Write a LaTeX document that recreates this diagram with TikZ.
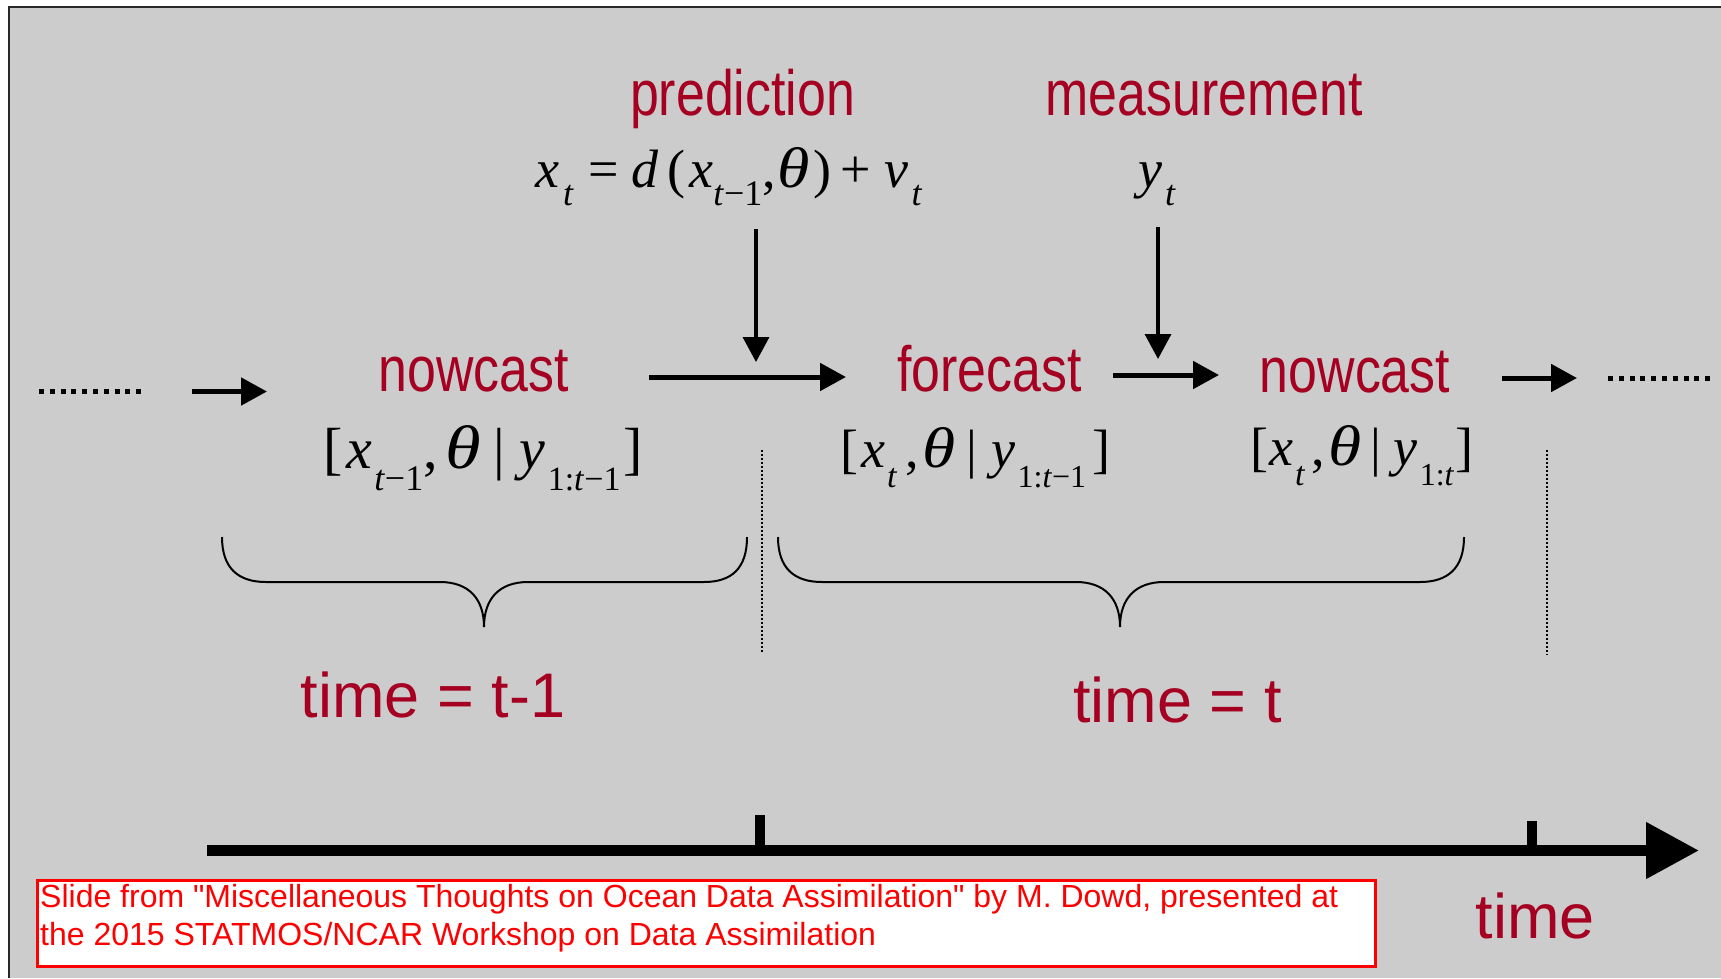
\documentclass[tikz,border=0pt]{standalone}
\usepackage{fontspec}
\usepackage{graphicx}
\setmainfont{Liberation Sans}[Ligatures=TeXOff]
\newfontfamily\tnr{Liberation Serif}
\usetikzlibrary{arrows.meta}
\definecolor{bgray}{RGB}{204,204,204}
\definecolor{lblred}{RGB}{165,0,33}
\definecolor{notered}{RGB}{255,0,0}
\definecolor{framec}{RGB}{40,40,40}
\newcommand\Sb[3]{\raisebox{-#1pt}{\fontsize{#2}{#2}\selectfont #3}}
\newcommand\It[1]{\textit{#1}}
\newcommand\Th[1]{\scalebox{#1}[1.06]{\textit{θ}}}
\newcommand\Nar[1]{\scalebox{0.81}[1]{#1}}
\tikzset{
 lbl/.style={text=lblred, inner sep=0pt, anchor=base, font=\fontsize{64}{64}\selectfont},
 tlbl/.style={text=lblred, inner sep=0pt, anchor=base, font=\fontsize{63}{63}\selectfont},
 mth/.style={inner sep=0pt, anchor=base west, font=\tnr},
 harrow/.style={line width=5pt, -{Triangle[length=26pt,width=27pt]}},
 varrow/.style={line width=3.5pt, -{Triangle[length=25pt,width=26pt]}},
 axisarrow/.style={line width=11pt, -{Triangle[length=53pt,width=54pt]}},
 dotrow/.style={line width=5pt, dash pattern=on 5pt off 5.8pt},
 sepline/.style={line width=1.4pt, dash pattern=on 1.6pt off 2.4pt},
 brace/.style={line width=2pt},
 tickm/.style={line width=10pt},
 notetext/.style={text=notered, inner sep=0pt, anchor=base west, font=\fontsize{32}{32}\selectfont},
}
\begin{document}
\begin{tikzpicture}[x=1pt,y=-1pt]
\useasboundingbox (0,0) rectangle (1721,978);
\fill[white] (0,0) rectangle (1721,978);
\fill[bgray] (9,7) rectangle (1721,978);
\draw[framec, line width=2pt] (9,978) -- (9,7) -- (1721,7);

% red labels
\node[lbl] (pred) at (742.5,115) {\Nar{prediction}};
\node[lbl] (meas) at (1204,115) {\Nar{measurement}};
\node[lbl] (nowL) at (474,391) {\Nar{nowcast}};
\node[lbl] (fore) at (989.5,391) {\Nar{forecast}};
\node[lbl] (nowR) at (1355,392) {\Nar{nowcast}};

% math
\node[mth] (eqpred) at (535,187) {\fontsize{54}{54}\selectfont\It{x}\hspace{4pt}\Sb{18}{36}{\It{t}}\hspace{15pt}=\hspace{12pt}\It{d}\hspace{9pt}(\hspace{4pt}\It{x}\Sb{18}{36}{\It{t}−1},\hspace{2pt}\Th{1.22}\hspace{3pt})\hspace{9pt}+\hspace{14pt}\It{ν}\hspace{3pt}\Sb{18}{36}{\It{t}}};
\node[mth] (eqmeas) at (1138,187) {\fontsize{54}{54}\selectfont\It{y}\hspace{3pt}\Sb{18}{36}{\It{t}}};
\node[mth] (distL) at (323,468) {\fontsize{58}{58}\selectfont[\hspace{4pt}\It{x}\hspace{2pt}\Sb{22}{36}{\It{t}−1},\hspace{8pt}\Th{1.25}\hspace{12pt}|\hspace{14pt}\It{y}\hspace{3pt}\Sb{22}{34}{1:\It{t}−1}\hspace{3pt}]};
\node[mth] (distF) at (840,467) {\fontsize{54}{54}\selectfont[\hspace{3pt}\It{x}\hspace{2pt}\Sb{20}{34}{\It{t}}\hspace{8pt},\hspace{4pt}\Th{1.25}\hspace{11pt}|\hspace{14pt}\It{y}\hspace{2pt}\Sb{20}{32}{1:\It{t}−1}\hspace{6pt}]};
\node[mth] (distR) at (1250,465) {\fontsize{54}{54}\selectfont[\hspace{1pt}\It{x}\hspace{2pt}\Sb{20}{34}{\It{t}}\hspace{6pt},\hspace{4pt}\Th{1.25}\hspace{9pt}|\hspace{12pt}\It{y}\hspace{2pt}\Sb{20}{32}{1:\It{t}}\hspace{1pt}]};

% time labels
\node[tlbl] (tprev) at (433,717) {time = t-1};
\node[tlbl] (tcur) at (1177.5,722) {time = t};
\node[tlbl] (taxis) at (1535,938) {time};

% arrow end points
\coordinate (dotsLa) at (39,391.5);
\coordinate (dotsLb) at (142,391.5);
\coordinate (inLa) at (192,391.5);
\coordinate (inLb) at (267,391.5);
\coordinate (nfA) at (649,377);
\coordinate (nfB) at (846,377);
\coordinate (fnA) at (1113,375);
\coordinate (fnB) at (1219,375);
\coordinate (outA) at (1502,378);
\coordinate (outB) at (1577,378);
\coordinate (dotsRa) at (1608,378.5);
\coordinate (dotsRb) at (1711,378.5);
\coordinate (predA) at (756,229);
\coordinate (predB) at (756,362);
\coordinate (measA) at (1158,227);
\coordinate (measB) at (1158,359);

\draw[dotrow] (dotsLa) -- (dotsLb);
\draw[harrow] (inLa) -- (inLb);
\draw[harrow] (nfA) -- (nfB);
\draw[harrow] (fnA) -- (fnB);
\draw[harrow] (outA) -- (outB);
\draw[dotrow] (dotsRa) -- (dotsRb);
\draw[varrow] (predA) -- (predB);
\draw[varrow] (measA) -- (measB);

% separators
\coordinate (sepAa) at (762,450);
\coordinate (sepAb) at (762,653);
\coordinate (sepBa) at (1547,450);
\coordinate (sepBb) at (1547,655);
\draw[sepline] (sepAa) -- (sepAb);
\draw[sepline] (sepBa) -- (sepBb);

% braces
\draw[brace] (222,537) .. controls (222,568) and (238,582) .. (266,582) -- (440,582) .. controls (468,582) and (484,598) .. (484,627) .. controls (484,598) and (500,582) .. (528,582) -- (704,582) .. controls (732,582) and (747,568) .. (747,537);
\draw[brace] (778,537) .. controls (778,568) and (794,582) .. (822,582) -- (1076,582) .. controls (1104,582) and (1120,598) .. (1120,627) .. controls (1120,598) and (1136,582) .. (1164,582) -- (1420,582) .. controls (1448,582) and (1464,568) .. (1464,537);

% time axis
\coordinate (axA) at (207,850.5);
\coordinate (axB) at (1699,850.5);
\draw[axisarrow] (axA) -- (axB);
\coordinate (tkAa) at (760,815);
\coordinate (tkAb) at (760,850);
\coordinate (tkBa) at (1532,821);
\coordinate (tkBb) at (1532,850);
\draw[tickm] (tkAa) -- (tkAb);
\draw[tickm] (tkBa) -- (tkBb);

% note box
\node[draw=notered, line width=2.5pt, fill=white, inner sep=0pt, minimum width=1338pt, minimum height=86pt, anchor=north west] (notebox) at (36.25,879.25) {};
\node[notetext] (noteA) at (40,907) {Slide from "Miscellaneous Thoughts on Ocean Data Assimilation" by M. Dowd, presented at};
\node[notetext] (noteB) at (40,945) {the 2015 STATMOS/NCAR Workshop on Data Assimilation};
\end{tikzpicture}
\end{document}
